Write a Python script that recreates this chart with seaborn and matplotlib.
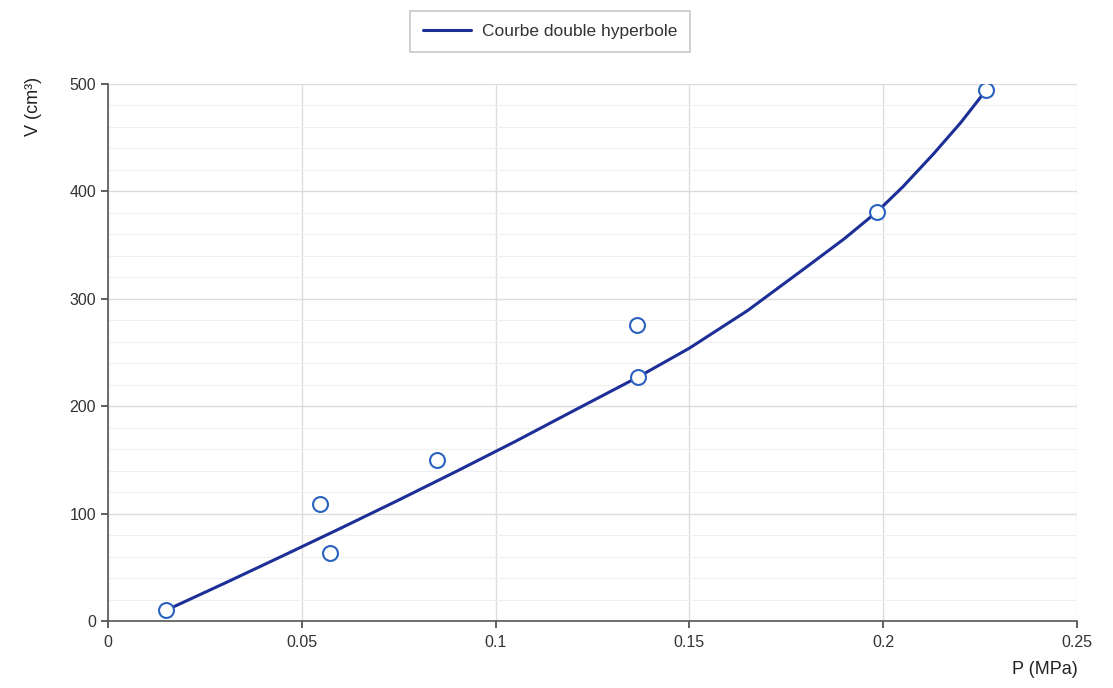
import numpy as np
import pandas as pd
import matplotlib
matplotlib.use("Agg")
import matplotlib.pyplot as plt
from matplotlib.ticker import MultipleLocator, FuncFormatter
import seaborn as sns

# Measured points
p_meas = [0.0150, 0.0547, 0.0573, 0.0849, 0.1365, 0.1367, 0.1984, 0.2265]
v_meas = [10, 109, 63, 150, 276, 227, 381, 494]

# Fitted double-hyperbola curve
p_curve = [0.0150, 0.0300, 0.0450, 0.0600, 0.0750, 0.0900, 0.1050, 0.1200,
           0.1367, 0.1500, 0.1650, 0.1800, 0.1900, 0.1984, 0.2050, 0.2130,
           0.2200, 0.2265]
v_curve = [10, 35, 60.5, 86.3, 112.6, 139.5, 167, 195.5,
           227, 254, 289, 329, 356, 381, 404, 435,
           464, 494]

curve_label = "Courbe double hyperbole"
x_label = "P (MPa)"
y_label = "V (cm³)"

sns.set_theme(style="white")
plt.rcParams["font.family"] = ["Liberation Sans", "DejaVu Sans"]

fig = plt.figure(figsize=(11.13, 6.88), dpi=100)
ax = fig.add_axes([0.097, 0.0974, 0.8707, 0.7806])

line_color = "#1c2f96"
marker_color = "#2a62c0"

curve_df = pd.DataFrame({"P": p_curve, "V": v_curve})
meas_df = pd.DataFrame({"P": p_meas, "V": v_meas})

sns.lineplot(data=curve_df, x="P", y="V", ax=ax, color=line_color, lw=2.2,
             label=curve_label, zorder=3)
sns.scatterplot(data=meas_df, x="P", y="V", ax=ax, s=115, facecolor="white",
                edgecolor=marker_color, linewidth=1.5, zorder=4, legend=False)

ax.set_xlim(0, 0.25)
ax.set_ylim(0, 500)
ax.xaxis.set_major_locator(MultipleLocator(0.05))
ax.yaxis.set_major_locator(MultipleLocator(100))
ax.yaxis.set_minor_locator(MultipleLocator(20))
ax.xaxis.set_major_formatter(FuncFormatter(lambda v, _: f"{v:g}"))

ax.grid(True, which="major", color="#dcdcdc", lw=1.0)
ax.grid(True, which="minor", axis="y", color="#efefef", lw=0.8)
ax.set_axisbelow(True)

for side in ("top", "right"):
    ax.spines[side].set_visible(False)
for side in ("left", "bottom"):
    ax.spines[side].set_color("#555555")
    ax.spines[side].set_linewidth(1.2)

ax.tick_params(axis="both", which="major", direction="out", length=5, width=1.2,
               color="#444444", labelsize=11.5, labelcolor="#333333",
               bottom=True, left=True)
ax.tick_params(axis="x", which="major", pad=5)
ax.tick_params(axis="both", which="minor", length=0)

ax.set_xlabel("")
ax.set_ylabel("")
fig.text(0.9685, 0.0145, x_label, ha="right", va="bottom", fontsize=13, color="#222222")
fig.text(0.030, 0.845, y_label, ha="center", va="center", rotation=90,
         fontsize=13, color="#222222")

leg = ax.legend(loc="center", bbox_to_anchor=(0.4560, 1.097), frameon=True,
                fontsize=12.5, handlelength=2.8, handletextpad=0.6,
                borderpad=0.75, fancybox=False, edgecolor="#bbbbbb")
leg.get_frame().set_linewidth(1.2)
for t in leg.get_texts():
    t.set_color("#333333")

fig.savefig("out.png", dpi=100, facecolor="white")
